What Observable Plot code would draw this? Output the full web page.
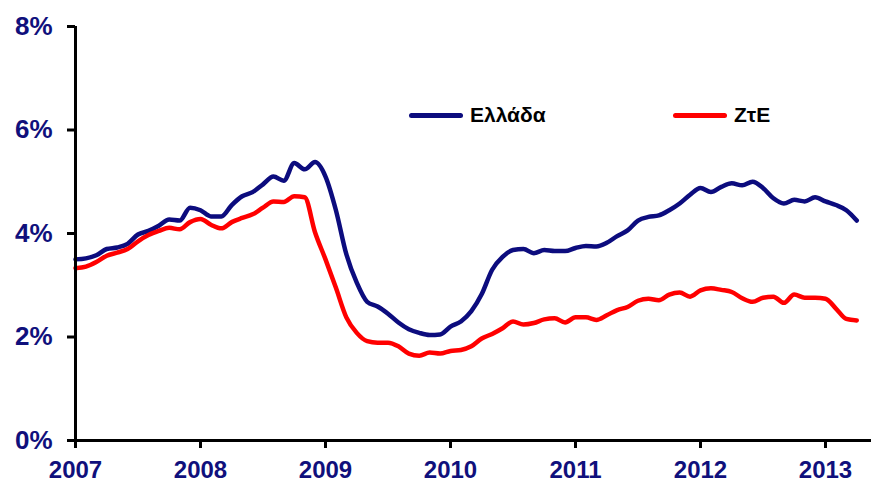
<!DOCTYPE html>
<html><head><meta charset="utf-8">
<script src="https://cdn.jsdelivr.net/npm/d3@7"></script>
<script src="https://cdn.jsdelivr.net/npm/@observablehq/plot@0.6"></script>
<style>
body{margin:0;background:#fff;}
#wrap{position:relative;width:871px;height:485px;font-family:"Liberation Sans",Arial,sans-serif;}
#wrap svg [aria-label="y-axis tick label"], #wrap svg [aria-label="x-axis tick label"]{font-weight:bold;}
.leg{position:absolute;top:104px;height:22px;font-weight:bold;font-size:21px;display:flex;align-items:center;color:#000;}
.leg .sw{display:inline-block;width:54px;height:5px;border-radius:2.5px;margin-right:7px;}
</style></head>
<body><div id="wrap"></div>
<script>
// monthly data starting January 2007
const startYear = 2007;
const yearTicks = [2007, 2008, 2009, 2010, 2011, 2012, 2013];
const pctTicks = [0, 2, 4, 6, 8];
const seriesNames = ["Ελλάδα", "ΖτΕ"];
const seriesColors = ["#0c0c7e", "#ff0000"];

const greece = [
  3.50, 3.52, 3.58, 3.70, 3.73, 3.80, 3.98, 4.05, 4.15, 4.27, 4.25, 4.50,
  4.45, 4.33, 4.33, 4.55, 4.72, 4.80, 4.95, 5.10, 5.02, 5.36, 5.24, 5.38,
  5.10, 4.45, 3.60, 3.05, 2.68, 2.59, 2.45, 2.28, 2.15, 2.08, 2.04, 2.05,
  2.20, 2.30, 2.50, 2.83, 3.30, 3.55, 3.68, 3.70, 3.62, 3.68, 3.66, 3.66,
  3.72, 3.76, 3.75, 3.82, 3.95, 4.06, 4.25, 4.32, 4.35, 4.45, 4.58, 4.75,
  4.88, 4.80, 4.90, 4.97, 4.93, 5.00, 4.88, 4.68, 4.58, 4.65, 4.62, 4.70,
  4.62, 4.55, 4.45, 4.25
];
const euroArea = [
  3.33, 3.36, 3.45, 3.57, 3.63, 3.70, 3.85, 3.97, 4.05, 4.11, 4.08, 4.22,
  4.28, 4.17, 4.10, 4.22, 4.30, 4.37, 4.50, 4.62, 4.61, 4.72, 4.70, 4.02,
  3.50, 2.95, 2.38, 2.08, 1.92, 1.89, 1.89, 1.82, 1.68, 1.64, 1.70, 1.68,
  1.73, 1.75, 1.82, 1.97, 2.06, 2.17, 2.30, 2.24, 2.27, 2.34, 2.36, 2.28,
  2.38, 2.38, 2.33, 2.42, 2.52, 2.58, 2.70, 2.74, 2.71, 2.82, 2.86, 2.78,
  2.90, 2.94, 2.91, 2.87, 2.75, 2.68, 2.76, 2.78, 2.66, 2.82, 2.76, 2.76,
  2.74, 2.55, 2.35, 2.32
];

const rows = [];
[greece, euroArea].forEach((arr, k) => arr.forEach((v, i) => rows.push({t: startYear + i / 12, v, s: seriesNames[k]})));

const navy = "#10107c";
const chart = Plot.plot({
  width: 871, height: 485,
  marginLeft: 75, marginRight: 0, marginTop: 26, marginBottom: 45,
  style: {fontFamily: "Liberation Sans, Arial, sans-serif", background: "white", overflow: "visible"},
  x: {type: "linear", domain: [2007, 2013.368]},
  y: {domain: [0, 8]},
  color: {domain: seriesNames, range: seriesColors},
  marks: [
    Plot.axisY(pctTicks, {tickSize: 8, tickPadding: 15, tickFormat: d => d + "%", fontSize: 26, fontWeight: "bold", fill: navy, stroke: "black", strokeWidth: 3, label: null}),
    Plot.axisX(yearTicks, {tickSize: 8, tickPadding: 12, tickFormat: d => String(d), fontSize: 24, fontWeight: "bold", fill: navy, stroke: "black", strokeWidth: 3, label: null}),
    Plot.line(rows, {x: "t", y: "v", z: "s", stroke: "s", strokeWidth: 4.5, curve: "monotone-x", strokeLinejoin: "round", strokeLinecap: "round"}),
    Plot.ruleX([2007], {strokeWidth: 3, stroke: "black"}),
    Plot.ruleY([0], {strokeWidth: 3, stroke: "black"})
  ]
});
const wrap = document.getElementById("wrap");
wrap.appendChild(chart);

const legendLeft = [409, 673];
seriesNames.forEach((name, k) => {
  const d = document.createElement("div");
  d.className = "leg";
  d.style.left = legendLeft[k] + "px";
  d.innerHTML = `<span class="sw" style="background:${seriesColors[k]}"></span><span>${name}</span>`;
  wrap.appendChild(d);
});
</script>
</body></html>
